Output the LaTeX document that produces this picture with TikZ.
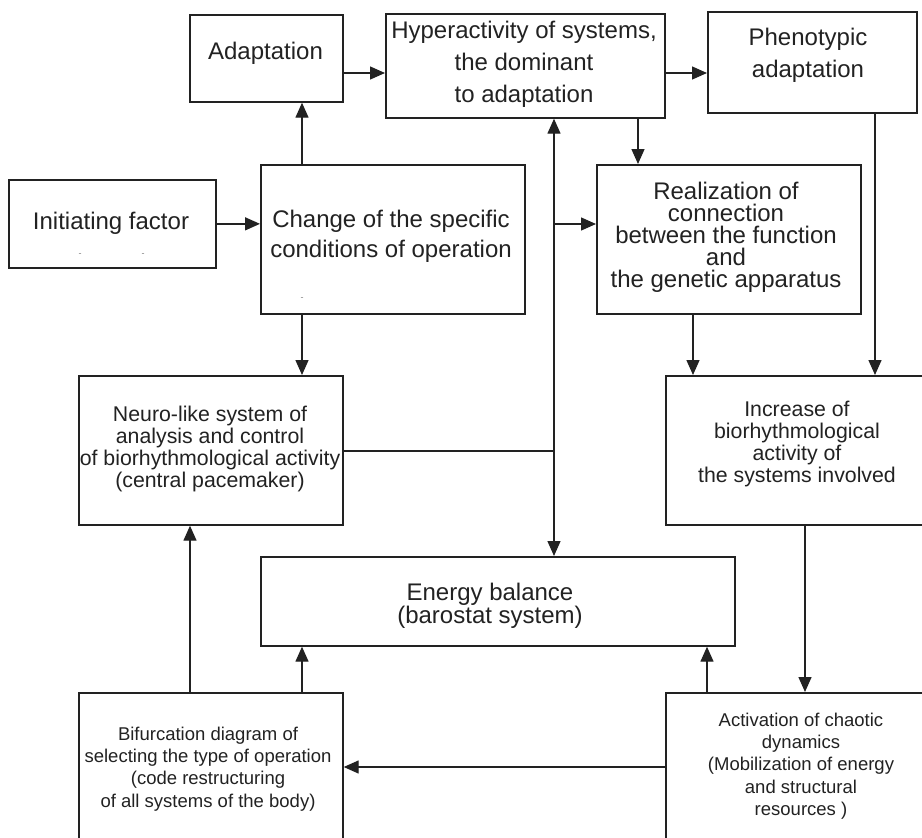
\documentclass[tikz,border=0pt]{standalone}
\usepackage{fontspec}
\setmainfont{Liberation Sans}
\usetikzlibrary{arrows.meta}
\definecolor{ink}{HTML}{222222}
\begin{document}
\begin{tikzpicture}[x=1pt,y=-1pt,
  box/.style={draw=ink,line width=1.7pt,rectangle,inner sep=0pt,anchor=north west,fill=white},
  lbl/.style={text=ink,align=center,inner sep=0pt},
  big/.style={font=\fontsize{24}{32}\selectfont},
  mid/.style={font=\fontsize{21.3}{22}\selectfont},
  sml/.style={font=\fontsize{18.5}{22.3}\selectfont},
  conn/.style={draw=ink,line width=1.4pt},
  arr/.style={conn,-{Triangle[length=15pt,width=13pt]}},
  darr/.style={conn,{Triangle[length=15pt,width=13pt]}-{Triangle[length=15pt,width=13pt]}},
  dashmark/.style={text=gray,font=\fontsize{9}{9}\selectfont,inner sep=0pt}]
\useasboundingbox (0,0) rectangle (922,838);
\fill[white] (0,0) rectangle (922,838);
\clip (0,0) rectangle (922,838);

% column / row helper coordinates
\coordinate (cx190) at (190,0);
\coordinate (cx302) at (302,0);
\coordinate (cx554) at (554,0);
\coordinate (cx638) at (638,0);
\coordinate (cx693) at (693,0);
\coordinate (cx707) at (707,0);
\coordinate (cx805) at (805,0);
\coordinate (cx875) at (875,0);
\coordinate (cy73) at (0,73);
\coordinate (cy767) at (0,767);

% boxes
\node[box,minimum width=153pt,minimum height=87pt] (adapt) at (189,14) {};
\node[box,minimum width=279pt,minimum height=104pt] (hyper) at (385,13) {};
\node[box,minimum width=209pt,minimum height=101pt] (pheno) at (707,11) {};
\node[box,minimum width=207pt,minimum height=88pt] (init) at (8,179) {};
\node[box,minimum width=264pt,minimum height=149pt] (chg) at (260,164) {};
\node[box,minimum width=264pt,minimum height=149pt] (real) at (596,164) {};
\node[box,minimum width=264pt,minimum height=149pt] (neuro) at (78,375) {};
\node[box,minimum width=264pt,minimum height=149pt] (incr) at (665,375) {};
\node[box,minimum width=474pt,minimum height=89pt] (energy) at (260,556) {};
\node[box,minimum width=264pt,minimum height=160pt] (bif) at (78,692) {};
\node[box,minimum width=264pt,minimum height=160pt] (act) at (665,692) {};

% texts
\node[lbl,big] (adaptT) at (265.5,53) {Adaptation};
\node[lbl,big] (hyperT) at (524,64) {Hyperactivity of systems,\\the dominant\\to adaptation};
\node[lbl,big] (phenoT) at (808,55) {Phenotypic\\adaptation};
\node[lbl,big] (initT) at (111,223) {Initiating factor};
\node[dashmark] (d1) at (80,255) {-};
\node[dashmark] (d2) at (143,255) {-};
\node[lbl,big,font=\fontsize{24}{30}\selectfont] (chgT) at (391,236) {Change of the specific\\conditions of operation};
\node[dashmark] (d3) at (302,299) {-};
\node[lbl,font=\fontsize{24}{22}\selectfont] (realT) at (726,237) {Realization of\\connection\\between the function\\and\\the genetic apparatus};
\node[lbl,mid] (neuroT) at (210,449) {Neuro-like system of\\analysis and control\\of biorhythmological activity\\(central pacemaker)};
\node[lbl,mid] (incrT) at (797,444) {Increase of\\biorhythmological\\activity of\\the systems involved};
\node[lbl,font=\fontsize{24}{23}\selectfont] (energyT) at (490,606) {Energy balance\\(barostat system)};
\node[lbl,sml] (bifT) at (208,769) {Bifurcation diagram of\\selecting the type of operation\\(code restructuring\\of all systems of the body)};
\node[lbl,sml] (actT) at (801,766) {Activation of chaotic\\dynamics\\(Mobilization of energy\\and structural\\resources )};

% connectors
\draw[arr] (init.east) -- (init.east -| chg.west);
\draw[arr] (chg.north -| cx302) -- (adapt.south -| cx302);
\draw[arr] (adapt.east |- cy73) -- (hyper.west |- cy73);
\draw[arr] (hyper.east |- cy73) -- (pheno.west |- cy73);
\draw[arr] (hyper.south -| cx638) -- (real.north -| cx638);
\draw[darr] (hyper.south -| cx554) -- (energy.north -| cx554);
\coordinate (j1) at (554,224);
\draw[arr] (j1) -- (j1 -| real.west);
\coordinate (j2) at (554,451);
\draw[conn] (neuro.east |- j2) -- (j2);
\draw[arr] (pheno.south -| cx875) -- (incr.north -| cx875);
\draw[arr] (real.south -| cx693) -- (incr.north -| cx693);
\draw[arr] (chg.south -| cx302) -- (neuro.north -| cx302);
\draw[arr] (incr.south -| cx805) -- (act.north -| cx805);
\draw[arr] (act.north -| cx707) -- (energy.south -| cx707);
\draw[arr] (bif.north -| cx302) -- (energy.south -| cx302);
\draw[arr] (bif.north -| cx190) -- (neuro.south -| cx190);
\draw[arr] (act.west |- cy767) -- (bif.east |- cy767);
\end{tikzpicture}
\end{document}
